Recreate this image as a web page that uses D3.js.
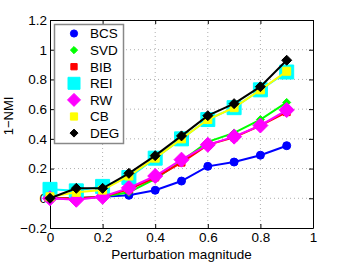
<!DOCTYPE html>
<html lang="en">
<head>
  <meta charset="UTF-8">
  <title>1-NMI vs perturbation</title>
  <script src="https://d3js.org/d3.v7.min.js"></script>
  <style>
    body, html { margin: 0; padding: 0; background: #fff; }
    svg { display: block; font-family: "Liberation Sans", Arial, sans-serif; }
    .grid line { stroke: #b0b0b0; stroke-dasharray: 1, 3; stroke-width: 1; }
  </style>
</head>
<body>
  <svg id="chart" width="346" height="262"></svg>
  <script>
    // data
    const xs = [0, 0.1, 0.2, 0.3, 0.4, 0.5, 0.6, 0.7, 0.8, 0.9];
    const bcs = [0, 0.0, 0.01, 0.02, 0.054, 0.116, 0.215, 0.244, 0.29, 0.354];
    const svd = [0, 0.0, 0.01, 0.04, 0.13, 0.25, 0.38, 0.44, 0.53, 0.645];
    const bib = [0, 0.0, 0.01, 0.06, 0.14, 0.24, 0.36, 0.41, 0.49, 0.58];
    const rei = [0.06, 0.05, 0.08, 0.14, 0.27, 0.40, 0.53, 0.61, 0.73, 0.85];
    const rw = [0, -0.01, 0.01, 0.07, 0.15, 0.26, 0.36, 0.415, 0.49, 0.594];
    const cb = [0.01, 0.04, 0.055, 0.15, 0.27, 0.40, 0.53, 0.61, 0.73, 0.855];
    const deg = [0, 0.067, 0.067, 0.168, 0.287, 0.42, 0.556, 0.637, 0.751, 0.929];
    const xTicks = [0, 0.2, 0.4, 0.6, 0.8, 1];
    const yTicks = [-0.2, 0, 0.2, 0.4, 0.6, 0.8, 1, 1.2];

    const series = [
      { name: "BCS", values: bcs, color: "#0000ff", marker: "circle", size: 4 },
      { name: "SVD", values: svd, color: "#00ff00", marker: "diamond", size: 4 },
      { name: "BIB", values: bib, color: "#ff0000", marker: "square", size: 3.5 },
      { name: "REI", values: rei, color: "#00ffff", marker: "square", size: 7 },
      { name: "RW", values: rw, color: "#ff00ff", marker: "diamond", size: 7.5 },
      { name: "CB", values: cb, color: "#ffff00", marker: "square", size: 4 },
      { name: "DEG", values: deg, color: "#000000", marker: "diamond", size: 5 }
    ];

    const svg = d3.select("#chart");
    const pLeft = 50, pRight = 313, pTop = 20, pBottom = 228;

    const x = d3.scaleLinear().domain([0, 1]).range([pLeft, pRight]);
    const y = d3.scaleLinear().domain([-0.2, 1.2]).range([pBottom, pTop]);

    // grid
    const grid = svg.append("g").attr("class", "grid");
    grid.selectAll(".gx").data(xTicks.slice(1, -1)).join("line")
      .attr("x1", d => x(d)).attr("x2", d => x(d))
      .attr("y1", pTop).attr("y2", pBottom);
    grid.selectAll(".gy").data(yTicks.slice(1, -1)).join("line")
      .attr("y1", d => y(d)).attr("y2", d => y(d))
      .attr("x1", pLeft).attr("x2", pRight);

    // axes
    const fmt = d => d < 0 ? "\u2212" + Math.abs(d) : String(d);
    svg.append("g").attr("transform", `translate(0,${pBottom})`)
      .call(d3.axisBottom(x).tickValues(xTicks).tickFormat(fmt).tickSizeInner(-4).tickSizeOuter(0).tickPadding(4));
    svg.append("g").attr("transform", `translate(${pLeft},0)`)
      .call(d3.axisLeft(y).tickValues(yTicks).tickFormat(fmt).tickSizeInner(-4).tickSizeOuter(0).tickPadding(3));
    svg.append("g").attr("transform", `translate(0,${pTop})`)
      .call(d3.axisTop(x).tickValues(xTicks).tickFormat("").tickSizeInner(-4).tickSizeOuter(0));
    svg.append("g").attr("transform", `translate(${pRight},0)`)
      .call(d3.axisRight(y).tickValues(yTicks).tickFormat("").tickSizeInner(-4).tickSizeOuter(0));
    svg.selectAll(".domain").attr("stroke", "#000");
    svg.selectAll(".tick line").attr("stroke", "#000");
    svg.selectAll(".tick text").attr("font-size", 13.5).attr("fill", "#000")
      .attr("font-family", "Liberation Sans, Arial, sans-serif");

    const symbolFor = (m, s) => {
      if (m === "circle") return d3.symbol(d3.symbolCircle, Math.PI * s * s)();
      if (m === "square") return d3.symbol(d3.symbolSquare, (2 * s) * (2 * s))();
      // diamond with equal diagonals
      return `M0,${-s}L${s},0L0,${s}L${-s},0Z`;
    };

    const line = d3.line().x((d, i) => x(xs[i])).y(d => y(d));

    series.forEach(s => {
      const g = svg.append("g");
      g.append("path").datum(s.values)
        .attr("d", line).attr("fill", "none")
        .attr("stroke", s.color).attr("stroke-width", 2);
      g.selectAll("path.mk").data(s.values).join("path")
        .attr("class", "mk")
        .attr("d", symbolFor(s.marker, s.size))
        .attr("transform", (d, i) => `translate(${x(xs[i])},${y(d)})`)
        .attr("fill", s.color).attr("stroke", s.color).attr("stroke-width", 1);
    });

    // legend
    const lg = svg.append("g");
    lg.append("rect").attr("x", 54.5).attr("y", 24.5).attr("width", 69).attr("height", 119)
      .attr("fill", "#fff").attr("stroke", "#888").attr("stroke-width", 1.5);
    series.forEach((s, i) => {
      const ly = 33.5 + i * 16.6;
      const lsize = s.name === "REI" ? 6 : s.name === "RW" ? 6.5 : s.name === "DEG" ? 4 : s.size * 0.9;
      lg.append("path").attr("d", symbolFor(s.marker, lsize))
        .attr("transform", `translate(74,${ly})`)
        .attr("fill", s.color).attr("stroke", s.color);
      lg.append("text").attr("x", 90).attr("y", ly).attr("dy", "0.36em")
        .attr("font-size", 13.5).attr("fill", "#000").text(s.name);
    });

    // axis labels
    svg.append("text").attr("x", (pLeft + pRight) / 2).attr("y", 259)
      .attr("text-anchor", "middle").attr("font-size", 13.5).text("Perturbation magnitude");
    svg.append("text").attr("transform", `translate(13,${(pTop + pBottom) / 2 - 8}) rotate(-90)`)
      .attr("text-anchor", "middle").attr("font-size", 13).text("1\u2212NMI");
  </script>
</body>
</html>
